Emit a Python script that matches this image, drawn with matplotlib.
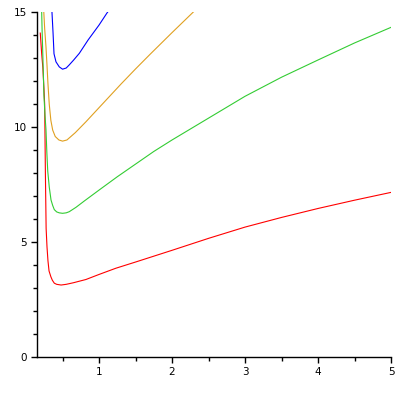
import matplotlib
matplotlib.use("Agg")
import matplotlib.pyplot as plt
from matplotlib.ticker import MultipleLocator

# curves (x, y)
red_x = [0.195, 0.214, 0.23, 0.245, 0.255, 0.265, 0.275, 0.287, 0.30, 0.315, 0.34, 0.36, 0.387, 0.42, 0.48,
         0.55, 0.65, 0.82, 1.0, 1.23, 1.5, 2.0, 2.5, 3.0, 3.5, 4.0, 4.5, 5.0]
red_y = [14.1, 13.2, 12.6, 11.7, 11.0, 8.0, 5.6, 4.8, 4.2, 3.75, 3.5, 3.35, 3.22, 3.17, 3.14,
         3.17, 3.24, 3.38, 3.6, 3.87, 4.14, 4.65, 5.17, 5.66, 6.08, 6.47, 6.83, 7.17]

green_x = [0.212, 0.22, 0.232, 0.245, 0.26, 0.273, 0.285, 0.297, 0.318, 0.342, 0.365, 0.387, 0.42, 0.455, 0.50,
           0.55, 0.592, 0.684, 0.8, 1.0, 1.25, 1.5, 1.75, 2.0, 2.5, 3.0, 3.5, 4.0, 4.5, 5.0]
green_y = [15.3, 14.2, 12.9, 11.4, 10.5, 9.9, 8.9, 8.1, 7.4, 6.84, 6.6, 6.42, 6.32, 6.28, 6.26,
           6.28, 6.33, 6.52, 6.8, 7.27, 7.85, 8.4, 8.95, 9.45, 10.4, 11.35, 12.18, 12.93, 13.67, 14.35]

orange_x = [0.24, 0.255, 0.273, 0.287, 0.30, 0.318, 0.34, 0.365, 0.40, 0.45, 0.50, 0.56, 0.675, 0.82,
            1.013, 1.3, 1.5, 1.7, 2.0, 2.27, 2.4]
orange_y = [15.2, 14.3, 13.5, 12.7, 11.9, 11.0, 10.3, 9.88, 9.6, 9.45, 9.40, 9.45, 9.77, 10.24,
            10.9, 11.88, 12.54, 13.18, 14.12, 14.95, 15.35]

blue_x = [0.352, 0.37, 0.383, 0.41, 0.455, 0.50, 0.55, 0.59, 0.65, 0.73, 0.85, 1.0, 1.11, 1.14]
blue_y = [15.2, 14.1, 13.2, 12.85, 12.63, 12.53, 12.58, 12.71, 12.92, 13.22, 13.8, 14.45, 14.98, 15.1]

fig = plt.figure(figsize=(4, 4), dpi=100)
ax = fig.add_axes([0.0925, 0.107, 0.885, 0.862])

ax.plot(red_x, red_y, color="#ff0000", lw=0.8)
ax.plot(green_x, green_y, color="#33cc33", lw=0.8)
ax.plot(orange_x, orange_y, color="#e0a020", lw=0.8)
ax.plot(blue_x, blue_y, color="#0000ff", lw=0.8)

ax.set_xlim(0.15, 5)
ax.set_ylim(0, 15)

for s in ["top", "right"]:
    ax.spines[s].set_visible(False)
for s in ["left", "bottom"]:
    ax.spines[s].set_linewidth(1.0)

ax.xaxis.set_major_locator(MultipleLocator(1))
ax.xaxis.set_minor_locator(MultipleLocator(0.5))
ax.yaxis.set_major_locator(MultipleLocator(5))
ax.yaxis.set_minor_locator(MultipleLocator(1))
ax.tick_params(which="major", length=4, width=1, labelsize=7.5, pad=3)
ax.tick_params(which="minor", length=3, width=1)

fig.savefig("out.png", dpi=100)
